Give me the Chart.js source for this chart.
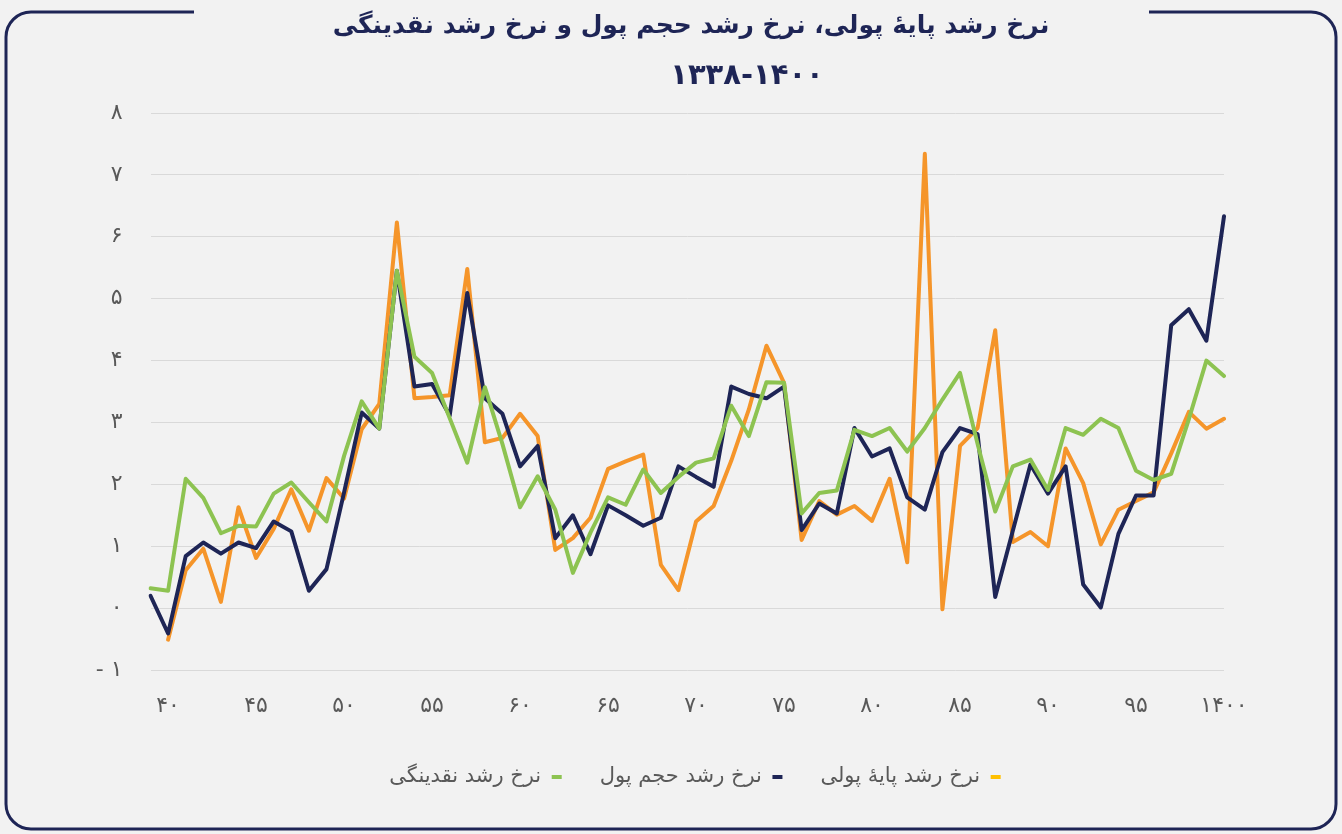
<!DOCTYPE html>
<html lang="fa">
<head>
<meta charset="utf-8">
<title>نرخ رشد پایهٔ پولی، نرخ رشد حجم پول و نرخ رشد نقدینگی</title>
<script src="https://cdn.jsdelivr.net/npm/chart.js@4.4.1/dist/chart.umd.min.js"></script>
<style>
    html, body { margin: 0; padding: 0; background: #f2f2f2; }
    #wrap { position: relative; width: 1342px; height: 834px; }
</style>
</head>
<body>
<div id="wrap"><canvas id="chart"></canvas></div>
<script>
// years 1339..1400 (growth vs previous year)
const years = [
    1339, 1340, 1341, 1342, 1343, 1344, 1345, 1346, 1347, 1348,
    1349, 1350, 1351, 1352, 1353, 1354, 1355, 1356, 1357, 1358,
    1359, 1360, 1361, 1362, 1363, 1364, 1365, 1366, 1367, 1368,
    1369, 1370, 1371, 1372, 1373, 1374, 1375, 1376, 1377, 1378,
    1379, 1380, 1381, 1382, 1383, 1384, 1385, 1386, 1387, 1388,
    1389, 1390, 1391, 1392, 1393, 1394, 1395, 1396, 1397, 1398,
    1399, 1400
]

// نرخ رشد پایهٔ پولی
const moneyBase = [
    null, -0.51, 0.61, 0.96, 0.10, 1.63, 0.81, 1.28, 1.92, 1.25,
    2.10, 1.77, 2.89, 3.30, 6.23, 3.39, 3.41, 3.44, 5.48, 2.68,
    2.75, 3.14, 2.78, 0.94, 1.13, 1.46, 2.25, 2.37, 2.48, 0.70,
    0.29, 1.40, 1.65, 2.38, 3.21, 4.24, 3.64, 1.10, 1.73, 1.51,
    1.65, 1.41, 2.09, 0.74, 7.34, -0.02, 2.62, 2.91, 4.49, 1.07,
    1.23, 1.00, 2.58, 2.02, 1.03, 1.59, 1.73, 1.87, 2.50, 3.17,
    2.90, 3.06
]

// نرخ رشد حجم پول
const moneySupply = [
    0.20, -0.41, 0.84, 1.06, 0.88, 1.06, 0.97, 1.40, 1.24, 0.28,
    0.63, 1.87, 3.16, 2.90, 5.45, 3.58, 3.62, 3.11, 5.09, 3.39,
    3.14, 2.29, 2.62, 1.13, 1.50, 0.87, 1.66, 1.50, 1.33, 1.46,
    2.29, 2.12, 1.96, 3.58, 3.46, 3.39, 3.58, 1.26, 1.69, 1.53,
    2.91, 2.45, 2.58, 1.79, 1.59, 2.52, 2.91, 2.81, 0.18, 1.25,
    2.32, 1.85, 2.29, 0.38, 0.01, 1.20, 1.82, 1.82, 4.57, 4.83,
    4.32, 6.33
]

// نرخ رشد نقدینگی
const liquidity = [
    0.32, 0.28, 2.09, 1.78, 1.21, 1.33, 1.32, 1.85, 2.03, 1.71,
    1.40, 2.46, 3.34, 2.90, 5.45, 4.06, 3.80, 3.07, 2.35, 3.57,
    2.65, 1.63, 2.13, 1.59, 0.57, 1.22, 1.79, 1.67, 2.24, 1.86,
    2.12, 2.35, 2.42, 3.27, 2.78, 3.65, 3.64, 1.53, 1.86, 1.90,
    2.88, 2.78, 2.91, 2.53, 2.91, 3.37, 3.80, 2.65, 1.56, 2.29,
    2.40, 1.91, 2.91, 2.80, 3.06, 2.91, 2.22, 2.07, 2.17, 3.05,
    4.00, 3.75
]

const yTicks = [-1, 0, 1, 2, 3, 4, 5, 6, 7, 8]

const titleLines = ['نرخ رشد پایهٔ پولی، نرخ رشد حجم پول و نرخ رشد نقدینگی', '۱۳۳۸-۱۴۰۰']

const NAVY = '#1e2556'
const ORANGE = '#f5952a'
const GREEN = '#8dc351'
const FONT = "'DejaVu Sans', 'Noto Sans', sans-serif"

const faDigits = (v) => String(v).replace(/\d/g, d => '۰۱۲۳۴۵۶۷۸۹'[d])

const yearLabel = (y) => {
    if (y % 5 !== 0) return ''
    return y === 1400 ? faDigits(1400) : faDigits(y % 100)
}

// frame with a gap for the title + the two title lines
const framePlugin = {
    id: 'frame',
    beforeDraw(chart) {
        const ctx = chart.ctx
        const x0 = 6, y0 = 12, x1 = 1336, y1 = 829, r = 25
        ctx.save()
        ctx.fillStyle = '#f2f2f2'
        ctx.fillRect(0, 0, chart.width, chart.height)
        ctx.strokeStyle = NAVY
        ctx.lineWidth = 3
        ctx.beginPath()
        ctx.moveTo(194, y0)
        ctx.lineTo(x0 + r, y0)
        ctx.arcTo(x0, y0, x0, y0 + r, r)
        ctx.lineTo(x0, y1 - r)
        ctx.arcTo(x0, y1, x0 + r, y1, r)
        ctx.lineTo(x1 - r, y1)
        ctx.arcTo(x1, y1, x1, y1 - r, r)
        ctx.lineTo(x1, y0 + r)
        ctx.arcTo(x1, y0, x1 - r, y0, r)
        ctx.lineTo(1149, y0)
        ctx.stroke()

        ctx.fillStyle = NAVY
        ctx.textAlign = 'center'
        ctx.textBaseline = 'middle'
        ctx.font = 'bold 25px ' + FONT
        ctx.direction = 'rtl'
        ctx.fillText(titleLines[0], 691, 26)
        ctx.direction = 'ltr'
        ctx.font = 'bold 29px ' + FONT
        ctx.fillText(titleLines[1], 747, 76)
        ctx.restore()
    },
    afterLayout(chart) {
        // legend row sits right of the canvas centre in the original
        const lg = chart.legend
        if (lg) {
            lg.left += 83
            lg.right += 83
        }
    }
}

const swatch = [GREEN, NAVY, '#ffc000']

const chart = new Chart(document.getElementById('chart'), {
    type: 'line',
    data: {
        labels: years,
        datasets: [
            { label: 'نرخ رشد نقدینگی', data: liquidity, borderColor: GREEN, backgroundColor: GREEN },
            { label: 'نرخ رشد حجم پول', data: moneySupply, borderColor: NAVY, backgroundColor: NAVY },
            { label: 'نرخ رشد پایهٔ پولی', data: moneyBase, borderColor: ORANGE, backgroundColor: ORANGE }
        ]
    },
    options: {
        responsive: true,
        maintainAspectRatio: false,
        animation: false,
        layout: { padding: { left: 0, right: 118, top: 113, bottom: 36.5 } },
        elements: {
            line: { borderWidth: 4, tension: 0, borderJoinStyle: 'round', borderCapStyle: 'round' },
            point: { radius: 0, hoverRadius: 0 }
        },
        scales: {
            x: {
                type: 'category',
                offset: false,
                grid: { display: false, drawTicks: false },
                border: { display: false },
                afterFit: (scale) => { scale.height = 58.5 },
                ticks: {
                    autoSkip: false,
                    maxRotation: 0,
                    padding: 23,
                    color: '#595959',
                    font: { family: FONT, size: 22 },
                    callback: (val, i) => yearLabel(years[i])
                }
            },
            y: {
                min: -1,
                max: 8,
                grid: { color: '#d9d9d9', lineWidth: 1, drawTicks: false },
                border: { display: false },
                afterFit: (scale) => { scale.width = 150.5 },
                afterBuildTicks: (scale) => { scale.ticks = yTicks.map(v => ({ value: v })) },
                ticks: {
                    padding: 28,
                    color: '#595959',
                    font: { family: FONT, size: 22 },
                    callback: (v) => v < 0 ? '\u202A- ' + faDigits(-v) + '\u202C' : faDigits(v)
                }
            }
        },
        plugins: {
            title: { display: false },
            tooltip: { enabled: false },
            legend: {
                position: 'bottom',
                rtl: true,
                reverse: true,
                textDirection: 'rtl',
                labels: {
                    boxWidth: 10,
                    boxHeight: 4,
                    padding: 38,
                    color: '#595959',
                    font: { family: FONT, size: 21 },
                    generateLabels: (c) => Chart.defaults.plugins.legend.labels.generateLabels(c).map(item => {
                        item.fillStyle = swatch[item.datasetIndex]
                        item.strokeStyle = 'rgba(0,0,0,0)'
                        item.lineWidth = 0
                        return item
                    })
                }
            }
        }
    },
    plugins: [framePlugin]
})
</script>
</body>
</html>
